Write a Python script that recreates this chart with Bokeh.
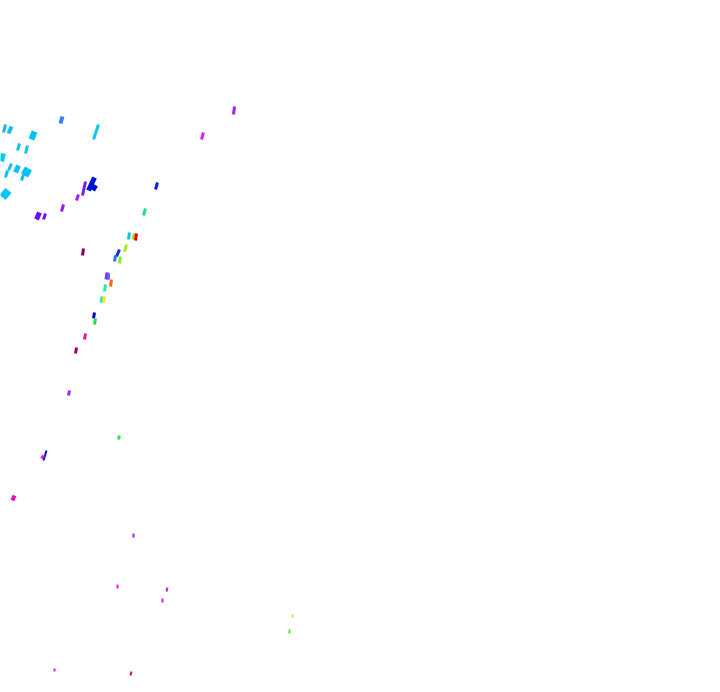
from bokeh.plotting import figure
from bokeh.models import ColumnDataSource, Range1d
from bokeh.embed import file_html
from bokeh.resources import INLINE

# Data: each mark runs from (x_start, y_start) to (x_end, y_end)
x_start = [3, 8, 60, 31, 93, 17, 25, 1, 8, 15, 24, 21, 5, 2, 88, 91, 82, 76, 61, 36, 43,
           155, 143, 128, 132, 135, 82, 124, 116, 114, 119, 106, 108, 110, 104, 101, 103,
           93, 94, 84, 75, 68, 118, 43, 41, 12, 133, 117, 166, 162, 54, 130, 233, 201, 292, 289]
y_start = [132, 133, 123, 139, 139, 150, 153, 161, 170, 172, 175, 180, 177, 197, 190, 189, 195, 200, 211, 219, 219,
           189, 215, 239, 239, 240, 255, 251, 256, 261, 263, 279, 279, 286, 291, 302, 302,
           318, 324, 339, 353, 395, 439, 460, 458, 500, 537, 588, 591, 602, 671, 675, 114, 139, 617, 633]
x_end = [5, 11, 62, 34, 98, 19, 27, 3, 11, 18, 28, 23, 7, 8, 94, 94, 85, 78, 63, 39, 45,
         157, 145, 129, 134, 136, 83, 126, 119, 115, 120, 107, 108, 111, 105, 102, 104,
         94, 95, 85, 76, 69, 119, 46, 43, 14, 133, 117, 167, 162, 54, 131, 234, 203, 292, 289]
y_end = [124, 126, 116, 131, 124, 143, 145, 153, 163, 165, 168, 174, 170, 190, 177, 184, 181, 194, 204, 212, 213,
         182, 208, 232, 233, 233, 248, 244, 249, 255, 256, 272, 273, 279, 284, 296, 296,
         312, 318, 333, 347, 390, 435, 450, 455, 495, 533, 584, 587, 598, 668, 671, 106, 132, 614, 629]
thickness = [3, 4, 4, 6, 3, 3, 3, 5, 3, 5, 8, 3, 3, 8, 5, 8, 3, 3, 3, 5, 3,
             3, 3, 3, 3, 3, 3, 3, 3, 3, 3, 4, 3, 3, 3, 4, 3,
             3, 3, 3, 3, 3, 3, 2, 3, 4, 2, 2, 2, 2, 2, 2, 3, 3, 2, 2]
colors = ["#1ab0f0", "#10c0f0", "#3a80f0", "#00c4f0", "#10c8f0", "#10c0f0", "#10c0f0", "#00d0f0",
          "#10c0f0", "#10c0f0", "#00c0f0", "#10b8f0", "#10c0f0", "#00c8f0", "#0018d0", "#0010d0",
          "#7020f0", "#9a20f0", "#8a20f0", "#6a10f0", "#7010f0",
          "#1020e0", "#20e080", "#20b8f0", "#b0e020", "#e00000", "#900050", "#a0f020", "#1030e0",
          "#3070f0", "#80f020", "#a020f0", "#4070f0", "#ff6a00", "#20f0a0", "#20e0e0", "#f0f000",
          "#0000d0", "#20e040", "#f0109a", "#a00060", "#a020f0", "#20f040", "#0010d0", "#f010f0",
          "#e010c0", "#a020f0", "#f010f0", "#b020f0", "#f010f0", "#f010f0", "#d0108a",
          "#a020f0", "#e020f0", "#c0f020", "#60e020"]

source = ColumnDataSource(dict(x0=x_start, y0=y_start, x1=x_end, y1=y_end,
                               w=thickness, c=colors))

p = figure(width=704, height=676, output_backend="svg", toolbar_location=None,
           x_range=Range1d(0, 704), y_range=Range1d(676, 0), min_border=0)
p.axis.visible = False
p.grid.visible = False
p.outline_line_color = None
p.background_fill_color = "white"
p.border_fill_color = "white"

p.segment(x0="x0", y0="y0", x1="x1", y1="y1", line_width="w", line_color="c",
          line_cap="butt", source=source)

open("out.html", "w").write(file_html(p, INLINE))
